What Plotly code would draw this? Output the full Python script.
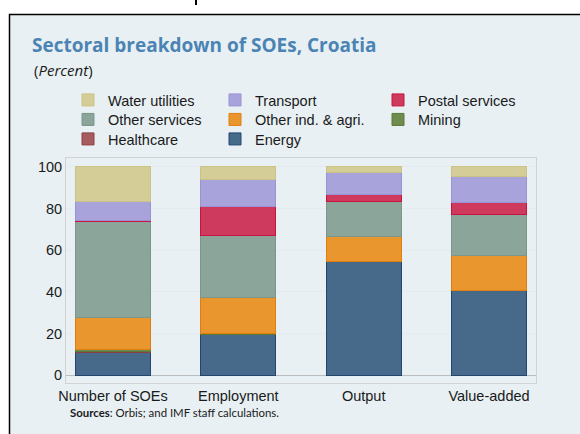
import plotly.graph_objects as go

categories = ["Number of SOEs", "Employment", "Output", "Value-added"]

energy = [11.0, 19.5, 54.8, 40.8]
healthcare = [0.5, 0.3, 0.0, 0.0]
mining = [0.7, 0.2, 0.0, 0.0]
other_ind = [15.6, 17.5, 11.6, 16.6]
other_services = [45.8, 29.5, 17.0, 19.8]
postal = [0.5, 14.2, 3.6, 5.6]
transport = [9.3, 12.9, 10.3, 12.7]
water = [16.6, 5.9, 2.7, 4.5]

y_ticks = [0, 20, 40, 60, 80, 100]

series = [
    ("Energy", energy, "#476A8B", "#24466E"),
    ("Healthcare", healthcare, "#A65B5F", "#8E3F44"),
    ("Mining", mining, "#6F8B4E", "#5A7A35"),
    ("Other ind. & agri.", other_ind, "#E9962F", "#E07F10"),
    ("Other services", other_services, "#8BA59A", "#7A978A"),
    ("Postal services", postal, "#CD3A5D", "#C81540"),
    ("Transport", transport, "#A9A3DB", "#9A93D3"),
    ("Water utilities", water, "#D4CD97", "#CBC385"),
]

# legend slot (column, row) for each series
legend_slots = {
    "Water utilities": (0, 0), "Transport": (1, 0), "Postal services": (2, 0),
    "Other services": (0, 1), "Other ind. & agri.": (1, 1), "Mining": (2, 1),
    "Healthcare": (0, 2), "Energy": (1, 2),
}

W, H = 580, 434
ML, MR, MT, MB = 66, 44, 158, 51
PW, PH = W - ML - MR, H - MT - MB

def px(x):
    return (x - ML) / PW

def py(y):
    return (H - MB - y) / PH

col_x = [68, 215, 378]
row_y = [100, 119.5, 139]

fig = go.Figure()
legend_layouts = {}
for i, (name, vals, col, edge) in enumerate(series):
    c, r = legend_slots[name]
    lname = "legend" if i == 0 else f"legend{i+1}"
    fig.add_trace(go.Bar(
        x=categories, y=vals, name=name, width=0.6,
        marker=dict(color=col, line=dict(color=edge, width=1)),
        legend=lname, hoverinfo="name+y",
    ))
    legend_layouts[lname] = dict(
        x=px(col_x[c]), y=py(row_y[r]), xanchor="left", yanchor="middle",
        bgcolor="rgba(0,0,0,0)", borderwidth=0,
        font=dict(family="Liberation Sans, Arial", size=14.5, color="#1a1a1a"),
    )

axis_font = dict(family="Liberation Sans, Arial", size=14.5, color="#1a1a1a")

fig.update_layout(
    width=W, height=H,
    margin=dict(l=ML, r=MR, t=MT, b=MB, autoexpand=False),
    paper_bgcolor="white", plot_bgcolor="white",
    barmode="stack", bargap=0.4,
    showlegend=True,
    title=dict(
        text="<b>Sectoral breakdown of SOEs, Croatia</b>",
        x=32 / W, xanchor="left", xref="container",
        y=1 - 45 / H, yanchor="middle", yref="container",
        font=dict(family="Open Sans", size=19, color="#4B84B4"),
    ),
    xaxis=dict(
        range=[-0.375, 3.375], tickfont=axis_font, ticks="",
        showline=True, mirror=True, linecolor="#D2D2D2", linewidth=1,
        showgrid=False,
    ),
    yaxis=dict(
        range=[-3.7, 104.3], tickvals=y_ticks, tickfont=axis_font, ticks="",
        showgrid=True, gridcolor="#E3EBF1", gridwidth=1,
        zeroline=True, zerolinecolor="#BDBDBD", zerolinewidth=1,
        showline=True, mirror=True, linecolor="#D2D2D2", linewidth=1,
    ),
    yaxis2=dict(
        range=[-3.7, 104.3], tickvals=y_ticks, tickfont=axis_font, ticks="",
        overlaying="y", side="right", showgrid=False, zeroline=False,
        showline=False,
    ),
    shapes=[
        dict(type="rect", xref="paper", yref="paper",
             x0=px(9.5), x1=px(600), y0=py(460), y1=py(14.5),
             fillcolor="#E8F0F3", line=dict(color="#000000", width=1.5),
             layer="below"),
        dict(type="line", xref="paper", yref="paper",
             x0=px(196), x1=px(196), y0=py(0), y1=py(5),
             line=dict(color="#000000", width=2)),
    ],
    annotations=[
        dict(text="(<i>Percent</i>)", xref="paper", yref="paper",
             x=px(32), y=py(70), xanchor="left", yanchor="middle",
             showarrow=False,
             font=dict(family="Open Sans", size=15, color="#1a1a1a")),
        dict(text="<b>Sources</b>: Orbis; and IMF staff calculations.",
             xref="paper", yref="paper",
             x=px(68), y=py(412.7), xanchor="left", yanchor="middle",
             showarrow=False,
             font=dict(family="Lato", size=11.4, color="#1a1a1a")),
    ],
    **legend_layouts,
)

fig.write_html(
    "out.html",
    config={"displayModeBar": False},
    post_script="document.body.style.margin='0';document.body.style.overflow='hidden';",
)
